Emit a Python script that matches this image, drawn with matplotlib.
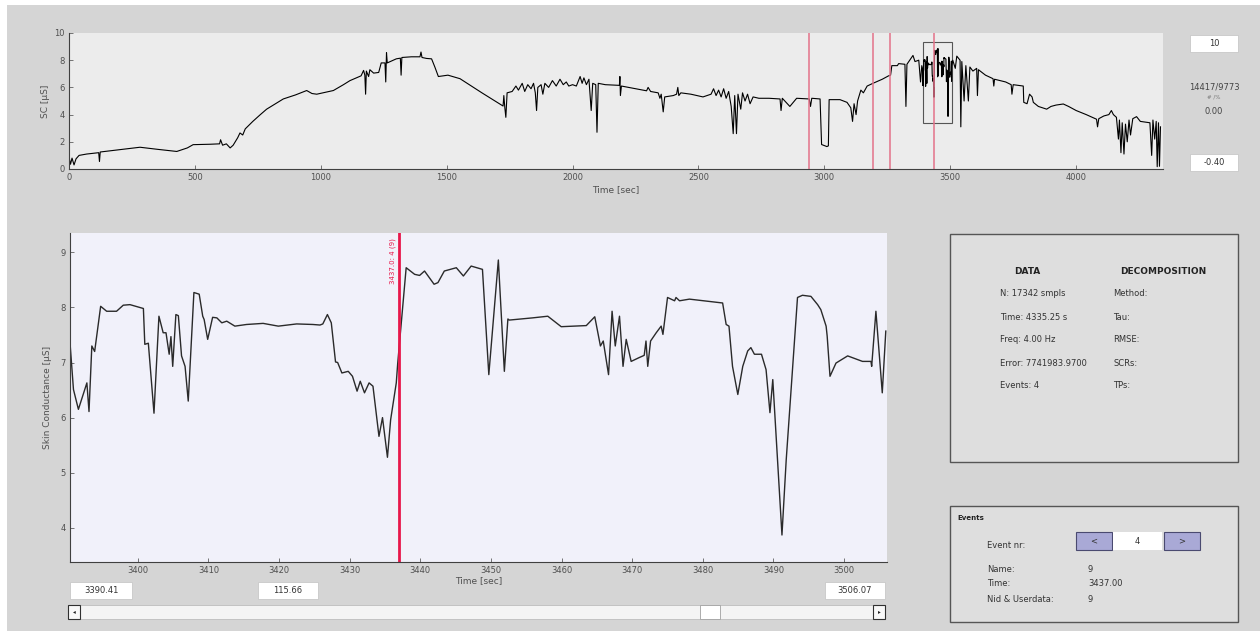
import matplotlib
matplotlib.use('Agg')
import matplotlib.pyplot as plt
from matplotlib.patches import Rectangle

W, H = 1260, 631

# whole recording (time s, SC uS)
over_t = [0, 6, 12, 20, 28, 40, 70, 118, 121, 124, 200, 282, 350, 428, 470, 493,
          560, 598, 602, 610, 625, 640, 652, 670, 679, 690, 700, 730, 760, 785,
          820, 851, 900, 944, 965, 984, 1050, 1090, 1116, 1160, 1170, 1175, 1178,
          1181, 1190, 1195, 1210, 1230, 1240, 1255, 1258, 1261, 1264, 1300, 1316,
          1319, 1322, 1360, 1394, 1398, 1402, 1420, 1440, 1453, 1467, 1505, 1553,
          1640, 1724, 1727, 1731, 1735, 1740, 1760, 1775, 1785, 1791, 1800, 1810,
          1822, 1835, 1845, 1852, 1857, 1862, 1875, 1882, 1890, 1905, 1920, 1935,
          1950, 1963, 1975, 1985, 2000, 2015, 2030, 2038, 2045, 2055, 2065, 2074,
          2080, 2092, 2097, 2102, 2130, 2186, 2188, 2190, 2194, 2250, 2294, 2300,
          2310, 2340, 2347, 2352, 2360, 2366, 2400, 2413, 2418, 2422, 2430, 2470,
          2518, 2550, 2560, 2570, 2580, 2590, 2600, 2610, 2620, 2630, 2638, 2644,
          2651, 2657, 2668, 2675, 2685, 2695, 2705, 2717, 2740, 2780, 2824, 2828,
          2833, 2863, 2890, 2940, 2945, 2950, 2983, 2989, 3010, 3016, 3019, 3062,
          3090, 3105, 3112, 3118, 3126, 3132, 3145, 3155, 3170, 3193, 3230, 3255,
          3263, 3268, 3290, 3295, 3320, 3324, 3328, 3352, 3360, 3375, 3382, 3387,
          3510, 3520, 3526, 3539, 3542, 3546, 3555, 3562, 3572, 3578, 3590, 3605,
          3608, 3612, 3640, 3670, 3673, 3676, 3720, 3742, 3745, 3750, 3776, 3790,
          3792, 3805, 3815, 3825, 3830, 3850, 3883, 3900, 3920, 3949, 3970, 4000,
          4040, 4081, 4085, 4090, 4110, 4130, 4140, 4148, 4160, 4168, 4172, 4178,
          4183, 4190, 4196, 4203, 4210, 4216, 4225, 4240, 4255, 4275, 4293, 4300,
          4305, 4312, 4318, 4322, 4327, 4331, 4335]
over_v = [0.9, 0.35, 0.8, 0.3, 0.75, 1.0, 1.1, 1.2, 0.55, 1.25, 1.42, 1.6, 1.45, 1.29, 1.55, 1.79,
          1.82, 1.85, 2.15, 1.75, 1.85, 1.55, 1.75, 2.3, 2.65, 2.5, 2.95, 3.5, 4.0, 4.4,
          4.8, 5.15, 5.45, 5.77, 5.55, 5.5, 5.77, 6.2, 6.5, 6.85, 7.25, 6.9, 5.5,
          7.2, 6.8, 7.3, 7.05, 7.1, 7.8, 7.8, 6.4, 8.55, 7.8, 8.1, 8.15,
          6.9, 8.2, 8.25, 8.25, 8.6, 8.2, 8.13, 8.1, 7.5, 6.8, 6.9, 6.64,
          5.6, 4.63, 5.4, 4.5, 3.8, 5.6, 5.7, 6.1, 5.8, 6.0, 6.3, 5.7,
          6.2, 5.9, 6.3, 5.6, 4.3, 6.0, 6.2, 5.5, 6.3, 6.0, 6.5, 6.1,
          6.6, 6.2, 6.4, 6.1, 6.2, 6.1, 6.8, 6.3, 6.7, 6.2, 6.6, 4.3,
          6.3, 6.2, 2.7, 6.3, 6.2, 6.15, 6.8, 5.4, 6.1, 5.9, 5.75, 6.0,
          5.7, 5.6, 5.2, 5.5, 4.2, 5.3, 5.4, 5.5, 6.0, 5.4, 5.6, 5.5,
          5.3, 5.5, 5.9, 5.4, 5.8, 5.3, 5.9, 5.2, 5.7, 4.6, 2.6, 5.4,
          2.6, 5.5, 4.4, 5.6, 5.0, 5.5, 4.8, 5.3, 5.2, 5.2, 5.15, 4.3,
          5.2, 4.6, 5.2, 5.15, 4.6, 5.2, 5.15, 1.8, 1.65, 1.7, 5.1, 5.1,
          4.9, 4.5, 3.5, 4.8, 4.0, 5.0, 5.8, 5.6, 6.1, 6.3, 6.6, 6.85,
          6.9, 7.6, 7.6, 7.75, 7.7, 4.6, 7.7, 8.35, 7.9, 8.0, 6.4, 7.6,
          8.0, 7.4, 8.3, 8.0, 3.1, 7.9, 5.0, 7.6, 5.0, 7.5, 7.2, 7.4,
          5.4, 7.3, 6.9, 6.64, 6.1, 6.6, 6.4, 6.2, 5.5, 6.2, 6.14, 6.1,
          4.9, 4.8, 5.5, 5.3, 4.9, 4.6, 4.4, 4.6, 4.7, 4.78, 4.6, 4.3,
          4.0, 3.66, 3.1, 3.7, 3.9, 4.0, 4.3, 4.0, 3.8, 2.2, 3.6, 1.2,
          3.4, 1.1, 3.3, 2.0, 3.6, 2.5, 3.7, 3.85, 3.5, 3.45, 3.4, 1.0,
          3.6, 2.2, 3.5, 0.17, 3.4, 0.2, 3.1]

# zoomed window trace
win_t = [3390.41, 3390.9, 3391.6, 3392.8, 3393.1, 3393.5, 3393.9, 3394.75, 3395.6,
         3397.0, 3397.95, 3398.9, 3400.8, 3401.0, 3401.5, 3402.3, 3403.0, 3403.6,
         3404.0, 3404.45, 3404.7, 3404.95, 3405.4, 3405.75, 3406.2, 3406.7, 3407.15,
         3407.95, 3408.7, 3409.2, 3409.4, 3409.9, 3410.6, 3411.2, 3411.9, 3412.6,
         3413.75, 3415.4, 3417.75, 3419.9, 3422.5, 3424.8, 3425.8, 3426.2, 3426.85,
         3427.4, 3428.0, 3428.3, 3428.9, 3429.8, 3430.4, 3431.05, 3431.5, 3432.1,
         3432.75, 3433.3, 3434.15, 3434.65, 3435.35, 3435.8, 3436.6, 3436.8, 3438.0,
         3439.2, 3439.9, 3440.6, 3441.95, 3442.5, 3443.4, 3445.1, 3446.1, 3447.2,
         3448.8, 3449.7, 3451.05, 3451.9, 3452.4, 3452.6, 3455.9, 3458.05, 3459.95,
         3463.5, 3464.7, 3465.5, 3465.9, 3466.65, 3467.15, 3467.6, 3468.2, 3468.7,
         3469.15, 3469.85, 3471.0, 3471.7, 3471.95, 3472.2, 3472.6, 3473.4, 3474.1,
         3474.35, 3475.0, 3476.0, 3476.2, 3476.7, 3478.1, 3482.8, 3483.3, 3483.7,
         3484.2, 3484.95, 3485.65, 3486.35, 3486.8, 3487.3, 3488.3, 3488.95, 3489.5,
         3489.9, 3491.2, 3491.8, 3493.4, 3494.1, 3495.3, 3496.25, 3496.7, 3497.45,
         3497.6, 3498.0, 3498.85, 3500.5, 3502.6, 3503.8, 3503.9, 3504.5, 3505.4,
         3505.9]
win_v = [7.36, 6.51, 6.15, 6.63, 6.11, 7.3, 7.2, 8.02, 7.93,
         7.93, 8.04, 8.05, 7.98, 7.33, 7.35, 6.08, 7.84, 7.54,
         7.54, 7.15, 7.47, 6.93, 7.87, 7.85, 7.12, 6.93, 6.3,
         8.27, 8.24, 7.84, 7.78, 7.42, 7.82, 7.81, 7.72, 7.75,
         7.66, 7.69, 7.71, 7.66, 7.7, 7.69, 7.68, 7.7, 7.87,
         7.72, 7.01, 7.0, 6.81, 6.84, 6.75, 6.48, 6.66, 6.45,
         6.63, 6.57, 5.66, 6.0, 5.28, 5.96, 6.63, 6.98, 8.72,
         8.6, 8.58, 8.66, 8.42, 8.45, 8.66, 8.72, 8.57, 8.75,
         8.69, 6.78, 8.86, 6.84, 7.79, 7.77, 7.81, 7.84, 7.65,
         7.67, 7.83, 7.3, 7.39, 6.78, 7.93, 7.3, 7.84, 6.93,
         7.42, 7.02, 7.09, 7.13, 7.39, 6.93, 7.39, 7.54, 7.66,
         7.51, 8.18, 8.12, 8.18, 8.12, 8.15, 8.08, 7.69, 7.66,
         6.93, 6.42, 6.93, 7.21, 7.27, 7.15, 7.15, 6.87, 6.09,
         6.69, 3.87, 5.23, 8.18, 8.22, 8.2, 8.05, 7.96, 7.66,
         7.48, 6.75, 6.99, 7.12, 7.02, 7.02, 6.93, 7.93, 6.45,
         7.57]

events_t = [2940, 3193, 3260, 3437.0]
win_start = 3390.41
win_width = 115.66
win_ylim = [3.38, 9.35]

info_left = ['N: 17342 smpls', 'Time: 4335.25 s', 'Freq: 4.00 Hz',
             'Error: 7741983.9700', 'Events: 4']
info_right = ['Method:', 'Tau:', 'RMSE:', 'SCRs:', 'TPs:']

GREY = '#d5d5d5'
TXT = '#505050'

fig = plt.figure(figsize=(W / 100, H / 100), dpi=100, facecolor=GREY)


def px_axes(x0, y0, x1, y1):
    return fig.add_axes([x0 / W, 1 - y1 / H, (x1 - x0) / W, (y1 - y0) / H])


def style(ax):
    for s in ['top', 'right']:
        ax.spines[s].set_visible(False)
    for s in ['left', 'bottom']:
        ax.spines[s].set_color('#404040')
        ax.spines[s].set_linewidth(0.8)
    ax.tick_params(direction='in', length=3, width=0.6, labelsize=6,
                   labelcolor=TXT, color='#606060', pad=3)


# gui layer (panels, boxes, buttons)
gui = px_axes(0, 0, W, H)
gui.set_xlim(0, W)
gui.set_ylim(H, 0)
gui.axis('off')
gui.add_patch(Rectangle((0, 0), W, 5, color='white', lw=0))
gui.add_patch(Rectangle((0, 0), 7, H, color='white', lw=0))


def textbox(x0, y0, x1, y1, s, ha='center'):
    gui.add_patch(Rectangle((x0, y0), x1 - x0, y1 - y0, facecolor='white',
                            edgecolor='#c8c8c8', lw=0.6))
    gui.text((x0 + x1) / 2, (y0 + y1) / 2, s, fontsize=6, color='#333333',
             ha='center', va='center')


textbox(1190, 35, 1238, 52, '10')
textbox(1190, 154, 1238, 171, '-0.40')
gui.text(1214, 87, '14417/9773', fontsize=6, color='#444444', ha='center', va='center')
gui.text(1214, 97, '# /%', fontsize=4, color='#777777', ha='center', va='center')
gui.text(1214, 111, '0.00', fontsize=6, color='#444444', ha='center', va='center')

textbox(70, 582, 132, 599, '3390.41')
textbox(258, 582, 318, 599, '115.66')
textbox(825, 582, 885, 599, '3506.07')

# scrollbar
gui.add_patch(Rectangle((68, 605), 817, 14, facecolor='#f4f4f4', edgecolor='#bdbdbd', lw=0.6))
gui.add_patch(Rectangle((68, 605), 12, 14, facecolor='#f8f8f8', edgecolor='#303030', lw=0.8))
gui.add_patch(Rectangle((873, 605), 12, 14, facecolor='#f8f8f8', edgecolor='#303030', lw=0.8))
gui.add_patch(Rectangle((700, 605), 20, 14, facecolor='white', edgecolor='#a0a0a0', lw=0.6))
gui.text(74, 612, '\u25c2', fontsize=4, ha='center', va='center', color='#202020')
gui.text(879, 612, '\u25b8', fontsize=4, ha='center', va='center', color='#202020')

# info panel
gui.add_patch(Rectangle((950, 234), 288, 228, facecolor='#dedede', edgecolor='#555555', lw=1.0))
gui.text(1027, 271, 'DATA', fontsize=6.5, weight='bold', color='#222222', ha='center', va='center')
gui.text(1163, 271, 'DECOMPOSITION', fontsize=6.5, weight='bold', color='#222222', ha='center', va='center')
row_y = [294, 317, 340, 363, 385]
for y, a, b in zip(row_y, info_left, info_right):
    gui.text(1000, y, a, fontsize=6, color='#333333', va='center')
    gui.text(1113, y, b, fontsize=6, color='#333333', va='center')

# events panel
gui.add_patch(Rectangle((950, 506), 288, 116, facecolor='#dedede', edgecolor='#555555', lw=1.0))
gui.text(957, 518, 'Events', fontsize=5, weight='bold', color='#222222', va='center')
gui.text(987, 546, 'Event nr:', fontsize=6, color='#333333', va='center')
gui.add_patch(Rectangle((1076, 532), 36, 18, facecolor='#a9a9d6', edgecolor='#4a4a70', lw=0.8))
gui.add_patch(Rectangle((1164, 532), 36, 18, facecolor='#a9a9d6', edgecolor='#4a4a70', lw=0.8))
gui.add_patch(Rectangle((1113, 532), 49, 18, facecolor='white', lw=0))
gui.text(1094, 541, '<', fontsize=6, color='#333333', ha='center', va='center')
gui.text(1182, 541, '>', fontsize=6, color='#333333', ha='center', va='center')
gui.text(1137, 541, '4', fontsize=6, color='#333333', ha='center', va='center')
for y, a, b in zip([569, 584, 600], ['Name:', 'Time:', 'Nid & Userdata:'], ['9', '3437.00', '9']):
    gui.text(987, y, a, fontsize=6, color='#333333', va='center')
    gui.text(1088, y, b, fontsize=6, color='#333333', va='center')

# overview axes
ax1 = px_axes(69, 33, 1163, 169)
ax1.set_facecolor('#ececec')
style(ax1)
pts = sorted(zip(over_t + win_t, over_v + win_v))
ax1.plot([p[0] for p in pts], [p[1] for p in pts], color='black', lw=0.8)
for t in events_t:
    ax1.axvline(t, color='#e4728a', lw=1.1)
ax1.add_patch(Rectangle((win_start, win_ylim[0]), win_width, win_ylim[1] - win_ylim[0],
                        fill=False, edgecolor='#555555', lw=0.8))
ax1.set_xlim(0, 4345)
ax1.set_ylim(0, 10)
ax1.set_xticks([0, 500, 1000, 1500, 2000, 2500, 3000, 3500, 4000])
ax1.set_yticks([0, 2, 4, 6, 8, 10])
ax1.set_xlabel('Time [sec]', fontsize=6.5, color=TXT, labelpad=2)
ax1.set_ylabel('SC [\u00b5S]', fontsize=6.5, color=TXT, labelpad=3)

# zoomed axes
ax2 = px_axes(70, 233, 887, 562)
ax2.set_facecolor('#f1f1fa')
style(ax2)
ax2.plot(win_t, win_v, color='#2a2a2a', lw=1.0)
ax2.axvline(events_t[3], color='#e8174a', lw=2.0)
ax2.text(events_t[3] - 0.45, win_ylim[1] - 0.1, '3437.0: 4 (9)', rotation=90,
         color='#e8174a', fontsize=5, ha='right', va='top')
ax2.set_xlim(win_start, win_start + win_width)
ax2.set_ylim(win_ylim)
ax2.set_xticks([3400, 3410, 3420, 3430, 3440, 3450, 3460, 3470, 3480, 3490, 3500])
ax2.set_yticks([4, 5, 6, 7, 8, 9])
ax2.set_xlabel('Time [sec]', fontsize=6.5, color=TXT, labelpad=1)
ax2.set_ylabel('Skin Conductance [\u00b5S]', fontsize=6.5, color=TXT, labelpad=6)

fig.savefig('out.png', dpi=100, facecolor=GREY)
